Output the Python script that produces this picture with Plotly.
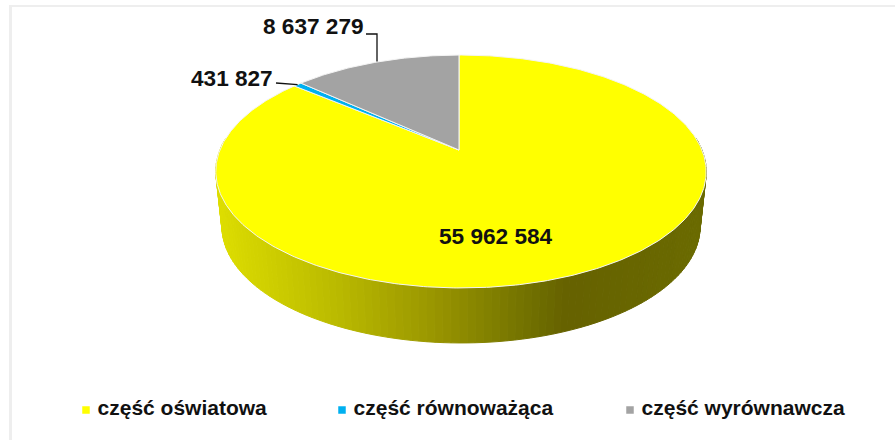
import numpy as np
import plotly.graph_objects as go

categories = ["część oświatowa", "część równoważąca", "część wyrównawcza"]
values = [55962584, 431827, 8637279]
value_labels = ["55 962 584", "431 827", "8 637 279"]
colors = ["#FFFF00", "#00B0F0", "#A3A3A3"]

FONT = "Liberation Sans, Arial, sans-serif"
X0, Y0 = 459.0, 150.0
A, B, K, J = 241.0, 112.5, 0.1845, -0.008
DEPTH, SHRINK = 55.0, 0.975


def project(theta):
    """Clockwise angle from 12 o'clock on the disc -> page position (perspective)."""
    ux, uy = np.sin(theta), np.cos(theta)
    d = 1 + K * uy + J * ux
    return X0 + A * ux / d, Y0 - B * uy / d


def wall_color(x):
    xs = [216, 333, 433, 533, 566, 706]
    r = [222, 187, 154, 112, 102, 107]
    g = [222, 187, 150, 112, 98, 107]
    return "rgb(%d,%d,0)" % (np.interp(x, xs, r), np.interp(x, xs, g))


fig = go.Figure()

# side wall, thin strips for the gradient
edges = np.radians(np.linspace(84, 276, 121))
for a, b in zip(edges[:-1], edges[1:]):
    th = np.linspace(a, b, 4)
    xt, yt = project(th)
    xb = X0 + 2 + SHRINK * (xt - X0 - 2)
    yb = yt + DEPTH
    xs = np.r_[xt, xb[::-1], xt[0]]
    ys = np.r_[yt, yb[::-1], yt[0]]
    c = wall_color(xt.mean())
    fig.add_trace(go.Scatter(x=xs, y=ys, mode="lines", fill="toself", fillcolor=c,
                             line=dict(color=c, width=1), hoverinfo="skip", showlegend=False))

# top face wedges
fractions = np.array(values, dtype=float) / sum(values)
ends = np.cumsum(fractions) * 2 * np.pi
starts = np.r_[0, ends[:-1]]
for name, v, c, s, e in zip(categories, values, colors, starts, ends):
    th = np.linspace(s, e, max(int((e - s) * 80), 6))
    x, y = project(th)
    fig.add_trace(go.Scatter(x=np.r_[X0, x, X0], y=np.r_[Y0, y, Y0], mode="lines", fill="toself",
                             fillcolor=c, line=dict(color="#F4F4F4", width=1),
                             name=name, text=f"{name}: {v}", hoverinfo="text", showlegend=False))

# leader lines from the slice edges
mid_blue = project((starts[1] + ends[1]) / 2)
mid_gray = project(starts[2] + 0.53 * (ends[2] - starts[2]))
fig.add_trace(go.Scatter(x=[276, mid_blue[0]], y=[83, mid_blue[1]], mode="lines",
                         line=dict(color="#111111", width=1.3), hoverinfo="skip", showlegend=False))
fig.add_trace(go.Scatter(x=[366, 377, 377], y=[34, 34, mid_gray[1]], mode="lines",
                         line=dict(color="#111111", width=1.3), hoverinfo="skip", showlegend=False))

# legend row: square key plus its label
for name, c, lx in zip(categories, colors, [86, 342, 630]):
    fig.add_trace(go.Scatter(x=[lx], y=[410], mode="markers+text", text=[" " + name],
                             textposition="middle right",
                             textfont=dict(family=FONT, size=21, color="#111111", weight="bold"),
                             marker=dict(symbol="square", size=7.5, color=c),
                             hoverinfo="skip", showlegend=False, cliponaxis=False))

annotations = []
for t, cx, cy in zip(value_labels, [496, 232, 313], [236, 78, 26]):
    annotations.append(dict(x=cx, y=cy, xref="x", yref="y", text=f"<b>{t}</b>", showarrow=False,
                            font=dict(family=FONT, size=22.6, color="#111111")))

fig.update_layout(
    width=895, height=440, margin=dict(l=0, r=0, t=0, b=0),
    paper_bgcolor="white", plot_bgcolor="white", showlegend=False,
    xaxis=dict(range=[0, 895], visible=False, fixedrange=True),
    yaxis=dict(range=[440, 0], visible=False, fixedrange=True),
    annotations=annotations,
    shapes=[
        dict(type="line", xref="paper", yref="paper", x0=9 / 895, x1=1, y0=1 - 6 / 440, y1=1 - 6 / 440,
             line=dict(color="#EEEEEE", width=2)),
        dict(type="line", xref="paper", yref="paper", x0=10.5 / 895, x1=10.5 / 895, y0=0, y1=1 - 6 / 440,
             line=dict(color="#EEEEEE", width=3)),
    ],
)
fig.write_html("out.html", config=dict(displayModeBar=False),
               post_script="document.body.style.margin='0';document.body.style.overflow='hidden';")
